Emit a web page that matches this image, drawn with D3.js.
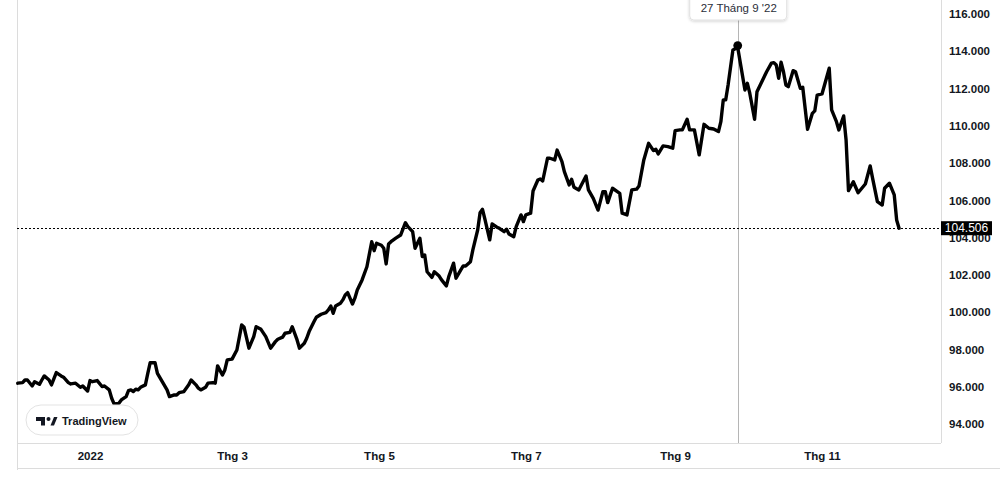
<!DOCTYPE html>
<html>
<head>
<meta charset="utf-8">
<script src="https://cdn.jsdelivr.net/npm/d3@7/dist/d3.min.js"></script>
<style>
  html, body { margin: 0; padding: 0; background: #fff; }
  svg { display: block; }
</style>
</head>
<body>
<svg id="chart" width="1000" height="478"></svg>
<script>
// ---- data (US Dollar Index, daily closes) ----
const dates = [
"2021-12-02","2021-12-04","2021-12-05","2021-12-06","2021-12-08","2021-12-09","2021-12-11","2021-12-12","2021-12-13","2021-12-15",
"2021-12-16","2021-12-18","2021-12-20","2021-12-21","2021-12-23","2021-12-24","2021-12-26","2021-12-28","2021-12-29","2021-12-31",
"2022-01-01","2022-01-02","2022-01-04","2022-01-06","2022-01-07","2022-01-09","2022-01-10","2022-01-11","2022-01-13","2022-01-14",
"2022-01-16","2022-01-17","2022-01-18","2022-01-19","2022-01-20","2022-01-21","2022-01-22","2022-01-24","2022-01-25","2022-01-26",
"2022-01-28","2022-01-29","2022-01-31","2022-02-02","2022-02-03","2022-02-05","2022-02-06","2022-02-07","2022-02-09","2022-02-11",
"2022-02-12","2022-02-14","2022-02-15","2022-02-16","2022-02-18","2022-02-19","2022-02-21","2022-02-22","2022-02-23","2022-02-25",
"2022-02-26","2022-02-27","2022-03-01","2022-03-03","2022-03-05","2022-03-06","2022-03-08","2022-03-10","2022-03-11","2022-03-13",
"2022-03-15","2022-03-17","2022-03-19","2022-03-20","2022-03-22","2022-03-23","2022-03-25","2022-03-26","2022-03-28","2022-03-29",
"2022-03-31","2022-04-01","2022-04-02","2022-04-04","2022-04-05","2022-04-07","2022-04-09","2022-04-10","2022-04-11","2022-04-12",
"2022-04-13","2022-04-15","2022-04-16","2022-04-17","2022-04-18","2022-04-20","2022-04-21","2022-04-22","2022-04-24","2022-04-26",
"2022-04-28","2022-04-29","2022-04-30","2022-05-02","2022-05-03","2022-05-04","2022-05-05","2022-05-06","2022-05-08","2022-05-10",
"2022-05-12","2022-05-13","2022-05-15","2022-05-16","2022-05-18","2022-05-19","2022-05-20","2022-05-21","2022-05-23","2022-05-24",
"2022-05-26","2022-05-27","2022-05-29","2022-05-30","2022-06-01","2022-06-02","2022-06-04","2022-06-05","2022-06-06","2022-06-08",
"2022-06-09","2022-06-11","2022-06-12","2022-06-13","2022-06-14","2022-06-16","2022-06-17","2022-06-19","2022-06-20","2022-06-22",
"2022-06-23","2022-06-24","2022-06-26","2022-06-27","2022-06-29","2022-06-30","2022-07-01","2022-07-03","2022-07-04","2022-07-06",
"2022-07-07","2022-07-08","2022-07-10","2022-07-11","2022-07-13","2022-07-14","2022-07-16","2022-07-17","2022-07-19","2022-07-20",
"2022-07-21","2022-07-23","2022-07-26","2022-07-27","2022-07-29","2022-07-31","2022-08-02","2022-08-03","2022-08-04","2022-08-06",
"2022-08-08","2022-08-09","2022-08-10","2022-08-12","2022-08-14","2022-08-16","2022-08-17","2022-08-19","2022-08-21","2022-08-23",
"2022-08-24","2022-08-25","2022-08-27","2022-08-29","2022-08-31","2022-09-01","2022-09-03","2022-09-04","2022-09-06","2022-09-07",
"2022-09-09","2022-09-11","2022-09-13","2022-09-15","2022-09-17","2022-09-19","2022-09-20","2022-09-21","2022-09-22","2022-09-23",
"2022-09-25","2022-09-27","2022-09-28","2022-09-30","2022-10-01","2022-10-02","2022-10-04","2022-10-05","2022-10-07","2022-10-09",
"2022-10-11","2022-10-12","2022-10-13","2022-10-14","2022-10-15","2022-10-16","2022-10-17","2022-10-18","2022-10-20","2022-10-21",
"2022-10-23","2022-10-24","2022-10-26","2022-10-28","2022-10-29","2022-10-30","2022-11-01","2022-11-04","2022-11-05","2022-11-07",
"2022-11-08","2022-11-10","2022-11-11","2022-11-12","2022-11-14","2022-11-16","2022-11-19","2022-11-21","2022-11-22","2022-11-24",
"2022-11-26","2022-11-27","2022-11-29","2022-12-01","2022-12-02","2022-12-03"
];
const values = [
96.19,96.22,96.36,96.36,96.04,96.27,96.13,96.36,96.58,96.36,
96.10,96.76,96.58,96.51,96.22,96.15,96.19,95.97,96.04,95.77,
96.33,96.27,96.33,96.01,96.04,95.83,95.38,95.08,95.11,95.29,
95.47,95.79,95.83,95.74,95.87,95.83,95.97,96.10,96.72,97.29,
97.29,96.72,96.27,95.83,95.47,95.56,95.56,95.68,95.74,96.10,
96.36,96.10,95.92,95.83,95.97,96.19,96.22,96.19,97.12,96.63,
96.90,97.44,97.48,97.97,99.32,99.19,98.07,98.69,99.22,99.08,
98.69,98.07,98.42,98.55,98.66,98.87,98.92,99.22,98.51,98.07,
98.33,98.60,98.96,99.49,99.73,99.89,99.98,100.12,100.33,99.94,
100.33,100.48,100.66,100.92,101.05,100.44,100.75,101.19,101.73,102.44,
103.78,103.30,103.70,103.59,103.43,102.59,103.66,103.78,103.97,104.14,
104.80,104.59,104.32,103.43,103.97,102.98,103.07,102.17,101.87,102.17,
101.94,101.73,101.41,101.91,102.63,101.82,102.27,102.48,102.48,102.71,
103.34,104.41,105.34,105.52,104.99,103.88,104.73,104.56,104.50,104.32,
104.45,104.20,104.05,104.59,105.22,104.86,105.22,105.31,106.50,107.09,
107.15,107.04,108.26,108.26,108.17,108.70,108.08,107.54,106.83,107.13,
106.70,106.56,107.31,106.56,106.11,105.48,106.47,106.47,105.88,106.65,
106.47,106.38,105.31,105.22,106.56,106.60,106.77,108.17,109.06,108.67,
108.74,108.49,108.92,108.88,108.80,109.74,109.78,109.78,110.35,109.78,
109.78,108.44,110.08,109.87,109.83,109.69,110.22,111.39,111.39,112.19,
114.07,114.20,113.44,111.92,112.28,111.75,110.35,111.83,112.37,112.90,
113.36,113.39,113.26,112.55,113.41,112.90,112.19,112.10,112.96,112.90,
112.01,112.07,109.81,110.67,110.80,111.65,111.71,113.09,110.85,110.22,
109.78,110.53,109.24,106.52,107.00,106.41,106.88,107.85,107.19,105.93,
105.75,106.65,106.92,106.29,104.95,104.506
];
const yTicks = [94, 96, 98, 100, 102, 104, 106, 108, 110, 112, 114, 116];
const xTickDates = ["2022-01-01","2022-03-01","2022-05-01","2022-07-01","2022-09-01","2022-11-01"];
const xTickLabels = ["2022","Thg 3","Thg 5","Thg 7","Thg 9","Thg 11"];
const lastPrice = 104.506;
const hoverDate = "2022-09-27";
const hoverLabel = "27 Tháng 9 '22";
const brandLabel = "TradingView";

// ---- layout ----
const W = 1000, H = 478;
const plotLeft = 17, plotRight = 941, plotBottom = 443, axisBottom = 468;
const parse = d3.timeParse("%Y-%m-%d");
const data = dates.map((d, i) => ({ date: parse(d), value: values[i] }));

const x = d3.scaleTime()
  .domain([parse("2022-01-01"), parse("2022-11-01")])
  .range([90, 822]);
const y = d3.scaleLinear().domain([94, 116]).range([424, 14]);

const svg = d3.select("#chart");
const FONT = "'Liberation Sans', Arial, sans-serif";

svg.append("rect").attr("width", W).attr("height", H).attr("fill", "#fff");

// borders
const borders = svg.append("g").attr("stroke", "#dcdcdc").attr("stroke-width", 1).attr("fill", "none");
borders.append("line").attr("x1", plotLeft + 0.5).attr("x2", plotLeft + 0.5).attr("y1", 0).attr("y2", axisBottom + 2);
borders.append("line").attr("x1", plotRight + 0.5).attr("x2", plotRight + 0.5).attr("y1", 0).attr("y2", plotBottom);
borders.append("line").attr("x1", plotLeft).attr("x2", plotRight).attr("y1", plotBottom + 0.5).attr("y2", plotBottom + 0.5);
borders.append("line").attr("x1", plotLeft).attr("x2", W).attr("y1", axisBottom + 0.5).attr("y2", axisBottom + 0.5);

// crosshair vertical
const hx = x(parse(hoverDate));
svg.append("line")
  .attr("x1", Math.round(hx) + 0.5).attr("x2", Math.round(hx) + 0.5)
  .attr("y1", 20).attr("y2", plotBottom)
  .attr("stroke", "#b5b5b5").attr("stroke-width", 1);

// last price dotted line
svg.append("line")
  .attr("x1", plotLeft).attr("x2", plotRight)
  .attr("y1", Math.round(y(lastPrice)) + 0.5).attr("y2", Math.round(y(lastPrice)) + 0.5)
  .attr("stroke", "#000").attr("stroke-width", 1.2).attr("stroke-dasharray", "2,2");

// line
const line = d3.line().x(d => x(d.date)).y(d => y(d.value));
svg.append("path")
  .datum(data)
  .attr("d", line)
  .attr("fill", "none")
  .attr("stroke", "#000")
  .attr("stroke-width", 3.4)
  .attr("stroke-linejoin", "round")
  .attr("stroke-linecap", "round");

// hover marker
const hoverPoint = data.find(d => +d.date === +parse(hoverDate));
svg.append("circle")
  .attr("cx", x(hoverPoint.date)).attr("cy", y(hoverPoint.value) - 2)
  .attr("r", 4.4).attr("fill", "#000");

// y axis
const yAxis = d3.axisRight(y).tickValues(yTicks).tickSize(0).tickPadding(0).tickFormat(d3.format(".3f"));
const gy = svg.append("g").attr("transform", `translate(949,0)`).call(yAxis);
gy.select(".domain").remove();
gy.selectAll("text")
  .attr("fill", "#131722")
  .style("font-family", FONT)
  .style("font-size", "11.5px")
  .style("font-weight", "bold");

// price label
const py = y(lastPrice);
svg.append("rect").attr("x", plotRight).attr("y", py - 7).attr("width", 51).attr("height", 14).attr("fill", "#000");
svg.append("text")
  .attr("x", plotRight + 25.5).attr("y", py)
  .attr("dy", "0.35em")
  .attr("text-anchor", "middle")
  .attr("fill", "#fff")
  .style("font-family", FONT)
  .style("font-size", "12px")
  .text(d3.format(".3f")(lastPrice));

// x axis
const xAxis = d3.axisBottom(x)
  .tickValues(xTickDates.map(parse))
  .tickSize(0).tickPadding(0)
  .tickFormat((d, i) => xTickLabels[i]);
const gx = svg.append("g").attr("transform", `translate(0,${plotBottom + 9})`).call(xAxis);
gx.select(".domain").remove();
gx.selectAll("text")
  .attr("fill", "#131722")
  .style("font-family", FONT)
  .style("font-size", "11.5px")
  .style("font-weight", "bold");

// tooltip at top
const tip = svg.append("g");
const defs = svg.append("defs");
const f = defs.append("filter").attr("id", "shadow").attr("x", "-20%").attr("y", "-50%").attr("width", "140%").attr("height", "200%");
f.append("feDropShadow").attr("dx", 0).attr("dy", 1).attr("stdDeviation", 1.5).attr("flood-color", "#000").attr("flood-opacity", 0.18);
tip.append("rect")
  .attr("x", hx - 48).attr("y", -6).attr("width", 97).attr("height", 26)
  .attr("rx", 4).attr("fill", "#fff").attr("stroke", "#e0e0e0")
  .attr("filter", "url(#shadow)");
tip.append("text")
  .attr("x", hx + 1).attr("y", 11)
  .attr("dy", "0.1em")
  .attr("text-anchor", "middle")
  .attr("fill", "#2a2e39")
  .style("font-family", FONT)
  .style("font-size", "11.5px")
  .text(hoverLabel);

// TradingView badge
const badge = svg.append("g");
badge.append("rect")
  .attr("x", 26).attr("y", 405).attr("width", 112).attr("height", 30)
  .attr("rx", 15).attr("fill", "#fff").attr("stroke", "#e3e3e3");
badge.append("path")
  .attr("d", "M36,417 h9 v8.5 h-4 v-4.5 h-5 z")
  .attr("fill", "#131722");
badge.append("circle").attr("cx", 48.5).attr("cy", 419).attr("r", 2).attr("fill", "#131722");
badge.append("path")
  .attr("d", "M50.5,425.5 L54,417 H57.5 L54,425.5 Z")
  .attr("fill", "#131722");
badge.append("text")
  .attr("x", 62).attr("y", 421)
  .attr("dy", "0.35em")
  .attr("fill", "#131722")
  .style("font-family", FONT)
  .style("font-size", "11px")
  .style("font-weight", "bold")
  .text(brandLabel);
</script>
</body>
</html>
